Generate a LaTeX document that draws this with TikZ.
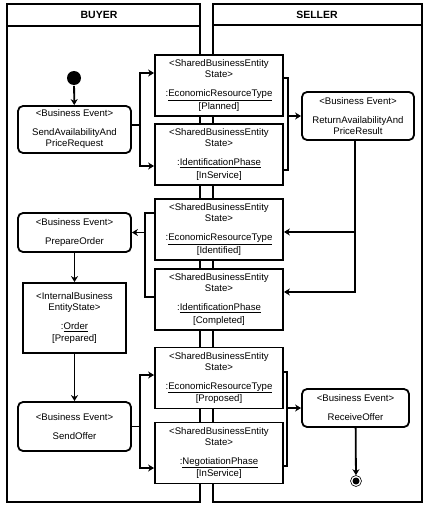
\documentclass[tikz,border=0pt]{standalone}
\usepackage{fontspec}
\setmainfont{Liberation Sans}
\usetikzlibrary{arrows.meta,positioning,calc}

\begin{document}
\begin{tikzpicture}[
  x=1pt, y=-1pt,
  line width=1.8pt,
  every node/.style={font=\fontsize{9.6}{11}\selectfont, align=center},
  lanehead/.style={font=\fontsize{10.5}{12}\selectfont\bfseries},
  state/.style={draw, fill=white, minimum width=128pt, minimum height=61pt, inner sep=1pt},
  event/.style={draw, fill=white, rounded corners=5pt, minimum width=113pt, inner sep=1pt},
  arr/.style={-{Stealth[length=6pt,width=7pt]}},
]
  \useasboundingbox (0,0) rectangle (431,508);

  \draw (7,4) rectangle (200,502);
  \draw (7,26) -- (200,26);
  \draw (213,4) rectangle (422,502);
  \draw (213,25) -- (422,25);
  \node[lanehead] (buyer) at (99,15) {BUYER};
  \node[lanehead] (seller) at (317,15) {SELLER};

  \node[circle, fill=black, minimum size=14pt, inner sep=0pt] (start) at (74,78) {};
  \node[event, minimum height=47pt] (req) at (74.5,129.5) {<Business Event>\\[8pt]SendAvailabilityAnd\\PriceRequest};
  \node[event, minimum height=39pt] (prep) at (74.5,232.5) {<Business Event>\\[8pt]PrepareOrder};
  \node[draw, fill=white, minimum width=103pt, minimum height=70pt, inner sep=1pt] (order) at (74.5,318) {<InternalBusiness\\EntityState>\\[8pt]:\underline{Order}\\[1.5pt]{}[Prepared]};
  \node[event, minimum height=49pt] (offer) at (74.5,426.5) {<Business Event>\\[8pt]SendOffer};

  \node[state] (plan) at (219,85.5) {<SharedBusinessEntity\\State>\\[8pt]:\underline{EconomicResourceType}\\[1.5pt]{}[Planned]};
  \node[state] (insvc) at (219,154.5) {<SharedBusinessEntity\\State>\\[8pt]:\underline{IdentificationPhase}\\[1.5pt]{}[InService]};
  \node[state] (ident) at (219,229.5) {<SharedBusinessEntity\\State>\\[8pt]:\underline{EconomicResourceType}\\[1.5pt]{}[Identified]};
  \node[state] (compl) at (219,299.5) {<SharedBusinessEntity\\State>\\[8pt]:\underline{IdentificationPhase}\\[1.5pt]{}[Completed]};
  \node[state] (prop) at (219,378) {<SharedBusinessEntity\\State>\\[8pt]:\underline{EconomicResourceType}\\[1.5pt]{}[Proposed]};
  \node[state] (nego) at (219,453) {<SharedBusinessEntity\\State>\\[8pt]:\underline{NegotiationPhase}\\[1.5pt]{}[InService]};

  \node[event, minimum width=112pt, minimum height=48pt] (ret) at (358,116) {<Business Event>\\[8pt]ReturnAvailabilityAnd\\PriceResult};
  \node[event, minimum width=107pt, minimum height=38pt] (recv) at (355.5,408) {<Business Event>\\[8pt]ReceiveOffer};
  \node[circle, draw, line width=0.6pt, minimum size=11pt, inner sep=0pt] (stop) at (356,481) {};
  \fill (stop) circle (3.5pt);

  \coordinate (j1) at (140,125);
  \coordinate (j2) at (288,116);
  \coordinate (j3) at (355,232);
  \coordinate (j4) at (145,232.5);
  \coordinate (j5) at (140,426.5);
  \coordinate (j6) at (287,408);

  \draw[arr] (start) -- (req);
  \draw (req.east |- j1) -- (j1);
  \draw[arr] (j1) |- ([yshift=12.5pt]plan.west);
  \draw[arr] (j1) |- ([yshift=-11.5pt]insvc.west);
  \draw ([yshift=7.5pt]plan.east) -| (j2) |- ([yshift=-15.5pt]insvc.east);
  \draw[arr] (j2) -- (ret.west);

  \draw[arr] ([xshift=-3pt]ret.south) |- ([yshift=7.5pt]compl.east);
  \draw[arr] (j3) -- ([yshift=-2.5pt]ident.east);
  \draw ([yshift=16.5pt]ident.west) -| (j4) |- ([yshift=2.5pt]compl.west);
  \draw[arr] (j4) -- (prep.east);

  \draw[arr] (prep) -- (order);
  \draw[arr] (order) -- (offer);

  \draw (offer.east) -- (j5);
  \draw[arr] (j5) |- ([yshift=3pt]prop.west);
  \draw[arr] (j5) |- ([yshift=-15pt]nego.west);
  \draw ([yshift=6pt]prop.east) -| (j6) |- ([yshift=-13pt]nego.east);
  \draw[arr] (j6) -- (recv.west);
  \draw[arr] (recv) -- (stop);
\end{tikzpicture}
\end{document}
